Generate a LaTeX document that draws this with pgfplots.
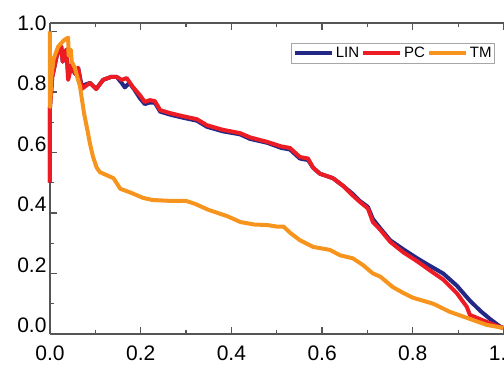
\documentclass[border=0pt]{standalone}
\usepackage{fontspec}
\setmainfont{Liberation Sans}
\usepackage{pgfplots}
\pgfplotsset{compat=1.18}
\definecolor{linblue}{RGB}{35,40,135}
\definecolor{pcred}{RGB}{237,28,36}
\definecolor{tmorange}{RGB}{247,148,30}
\definecolor{axgrey}{RGB}{85,85,85}
\begin{document}
\begin{tikzpicture}
\begin{axis}[
  at={(0pt,0pt)}, anchor=south west,
  scale only axis, width=453.5pt, height=311pt,
  xmin=0, xmax=1, ymin=0, ymax=1.028,
  axis y line*=left,
  axis line style={axgrey, line width=1.2pt},
  tick style={axgrey, line width=1.2pt},
  tick align=inside,
  major tick length=7pt, minor tick length=4pt,
  xtick={0,0.2,0.4,0.6,0.8,1}, minor xtick={0.1,0.3,0.5,0.7,0.9},
  ytick={0,0.2,0.4,0.6,0.8,1}, minor ytick={0.1,0.3,0.5,0.7,0.9},
  /pgf/number format/assume math mode=true,
  /pgf/number format/fixed, /pgf/number format/fixed zerofill, /pgf/number format/precision=1,
  tick label style={font=\fontsize{21}{25}\selectfont, text=black},
  xticklabel style={yshift=-8pt},
  yticklabel style={yshift=8.5pt},
  clip=false,
  legend columns=-1,
  legend image code/.code={\draw[#1] (0pt,0pt) -- (37pt,0pt);},
  legend style={at={(1,1)}, anchor=north east, xshift=-8.5pt, yshift=-20pt,
    draw=gray!70, line width=0.8pt, font=\fontsize{15}{17}\selectfont,
    inner xsep=1pt, inner ysep=1.5pt,
    nodes={inner xsep=2pt, inner ysep=2.5pt},
    /tikz/every even column/.append style={column sep=0pt}},
  every axis plot/.append style={line width=4pt, line join=round},
]
\addplot[linblue] coordinates {
(0,0.50)(0,0.75)(0.005,0.85)(0.015,0.92)(0.025,0.95)(0.028,0.90)(0.036,0.94)(0.04,0.86)(0.048,0.89)(0.055,0.86)(0.062,0.88)(0.070,0.82)(0.088,0.83)(0.102,0.81)(0.117,0.84)(0.135,0.85)(0.147,0.85)(0.158,0.83)(0.165,0.815)(0.175,0.83)(0.185,0.81)(0.198,0.78)(0.209,0.76)(0.22,0.765)(0.231,0.765)(0.243,0.735)(0.265,0.725)(0.293,0.715)(0.324,0.705)(0.346,0.685)(0.381,0.67)(0.419,0.66)(0.441,0.645)(0.479,0.632)(0.51,0.615)(0.529,0.61)(0.551,0.58)(0.569,0.575)(0.58,0.55)(0.595,0.53)(0.624,0.515)(0.646,0.49)(0.666,0.465)(0.683,0.44)(0.701,0.42)(0.712,0.38)(0.728,0.35)(0.75,0.31)(0.779,0.28)(0.81,0.25)(0.838,0.225)(0.867,0.2)(0.897,0.16)(0.926,0.11)(0.95,0.075)(0.97,0.05)(0.992,0.025)(1.0,0.02)
};
\addlegendentry{LIN}
\addplot[pcred] coordinates {
(0,0.50)(0,0.75)(0.005,0.85)(0.015,0.92)(0.025,0.95)(0.028,0.90)(0.036,0.94)(0.04,0.84)(0.048,0.89)(0.055,0.86)(0.062,0.88)(0.070,0.81)(0.088,0.83)(0.102,0.81)(0.117,0.84)(0.135,0.85)(0.147,0.85)(0.158,0.84)(0.169,0.846)(0.183,0.816)(0.198,0.79)(0.209,0.767)(0.22,0.773)(0.231,0.77)(0.243,0.74)(0.265,0.73)(0.293,0.72)(0.324,0.71)(0.346,0.69)(0.381,0.675)(0.419,0.664)(0.441,0.65)(0.479,0.635)(0.51,0.62)(0.529,0.615)(0.551,0.585)(0.569,0.58)(0.58,0.55)(0.595,0.53)(0.624,0.515)(0.646,0.49)(0.666,0.46)(0.683,0.437)(0.701,0.415)(0.712,0.37)(0.728,0.345)(0.75,0.305)(0.779,0.27)(0.81,0.24)(0.838,0.21)(0.867,0.18)(0.897,0.135)(0.919,0.09)(0.926,0.063)(0.963,0.04)(0.992,0.023)(1.0,0.02)
};
\addlegendentry{PC}
\addplot[tmorange] coordinates {
(0,1.0)(0,0.75)(0.003,0.85)(0.008,0.91)(0.018,0.95)(0.03,0.97)(0.04,0.98)(0.041,0.92)(0.046,0.94)(0.048,0.90)(0.055,0.88)(0.06,0.85)(0.066,0.82)(0.07,0.78)(0.075,0.73)(0.083,0.67)(0.088,0.63)(0.095,0.585)(0.103,0.55)(0.11,0.535)(0.125,0.525)(0.14,0.515)(0.155,0.48)(0.18,0.466)(0.205,0.45)(0.226,0.443)(0.265,0.44)(0.3,0.44)(0.32,0.43)(0.35,0.41)(0.39,0.39)(0.42,0.37)(0.45,0.362)(0.48,0.36)(0.5,0.355)(0.515,0.355)(0.53,0.334)(0.551,0.31)(0.58,0.288)(0.617,0.278)(0.64,0.26)(0.668,0.25)(0.69,0.228)(0.712,0.2)(0.728,0.19)(0.756,0.155)(0.78,0.135)(0.8,0.12)(0.845,0.10)(0.882,0.073)(0.92,0.053)(0.963,0.03)(1.0,0.02)
};
\addlegendentry{TM}
\end{axis}
\pgfresetboundingbox
\path[use as bounding box] (-50pt,-31pt) rectangle (454pt,334pt);
\end{tikzpicture}
\end{document}
